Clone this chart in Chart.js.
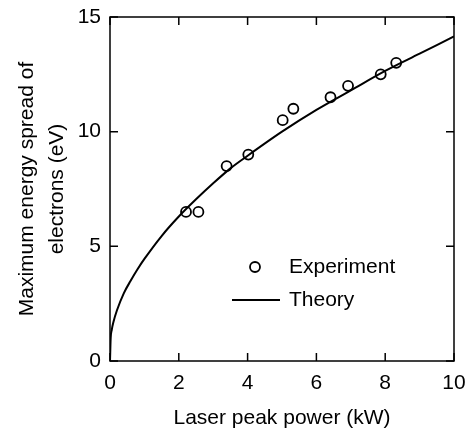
<!DOCTYPE html>
<html>
<head>
<meta charset="utf-8">
<script src="https://cdn.jsdelivr.net/npm/chart.js@4"></script>
<style>
  html, body { margin: 0; padding: 0; background: #fff; }
  #wrap { width: 469px; height: 430px; }
</style>
</head>
<body>
<div id="wrap"><canvas id="energyChart"></canvas></div>
<script>
// measured points (laser peak power kW, max energy spread eV)
const expPower = [2.21, 2.57, 3.39, 4.02, 5.02, 5.33, 6.41, 6.92, 7.87, 8.32];
const expSpread = [6.5, 6.5, 8.5, 9.0, 10.5, 11.0, 11.5, 12.0, 12.5, 13.0];

// theory curve
const theoryPower = [0, 0.02, 0.05, 0.1, 0.2, 0.4, 0.6, 0.8, 1, 1.5, 2, 2.5, 3, 3.5, 4, 5, 6, 7, 8, 9, 10];
const theorySpread = [0, 1.0, 1.35, 1.7, 2.2, 2.95, 3.5, 4.0, 4.45, 5.45, 6.3, 7.05, 7.75, 8.4, 8.95, 10.0, 10.95, 11.8, 12.65, 13.4, 14.15];

const xTicks = [0, 2, 4, 6, 8, 10];
const yTicks = [0, 5, 10, 15];

const FONT = 'Arial, "Liberation Sans", Helvetica, sans-serif';

const toXY = (xs, ys) => xs.map((x, i) => ({ x: x, y: ys[i] }));

// box frame + inward ticks on all four sides, and the in-plot legend
const framePlugin = {
  id: 'frame',
  afterDraw(chart) {
    const { ctx, chartArea: a, scales } = chart;
    const tl = 8;
    ctx.save();
    ctx.strokeStyle = '#000';
    ctx.lineWidth = 1.5;
    ctx.strokeRect(a.left, a.top, a.right - a.left, a.bottom - a.top);
    ctx.beginPath();
    xTicks.forEach(v => {
      const px = scales.x.getPixelForValue(v);
      ctx.moveTo(px, a.bottom); ctx.lineTo(px, a.bottom - tl);
      ctx.moveTo(px, a.top); ctx.lineTo(px, a.top + tl);
    });
    yTicks.forEach(v => {
      const py = scales.y.getPixelForValue(v);
      ctx.moveTo(a.left, py); ctx.lineTo(a.left + tl, py);
      ctx.moveTo(a.right, py); ctx.lineTo(a.right - tl, py);
    });
    ctx.stroke();

    // legend
    const lx = a.left + 122, ly = a.top + 250;
    ctx.lineWidth = 1.8;
    ctx.fillStyle = '#fff';
    ctx.beginPath();
    ctx.arc(lx + 23, ly, 5, 0, Math.PI * 2);
    ctx.fill(); ctx.stroke();
    ctx.lineWidth = 2;
    ctx.beginPath();
    ctx.moveTo(lx, ly + 33); ctx.lineTo(lx + 48, ly + 33);
    ctx.stroke();
    ctx.fillStyle = '#000';
    ctx.font = '21px ' + FONT;
    ctx.textBaseline = 'middle';
    ctx.fillText('Experiment', lx + 57, ly);
    ctx.fillText('Theory', lx + 57, ly + 33);
    ctx.restore();
  }
};

new Chart(document.getElementById('energyChart'), {
  type: 'scatter',
  data: {
    datasets: [
      {
        label: 'Theory',
        type: 'line',
        data: toXY(theoryPower, theorySpread),
        borderColor: '#000',
        borderWidth: 2,
        pointRadius: 0,
        fill: false,
        cubicInterpolationMode: 'monotone'
      },
      {
        label: 'Experiment',
        data: toXY(expPower, expSpread),
        pointStyle: 'circle',
        pointRadius: 5,
        pointBorderWidth: 1.8,
        pointBorderColor: '#000',
        pointBackgroundColor: '#fff'
      }
    ]
  },
  options: {
    responsive: true,
    maintainAspectRatio: false,
    animation: false,
    layout: { padding: { left: 0, right: 15, top: 17, bottom: 0 } },
    plugins: {
      legend: { display: false },
      tooltip: { enabled: false }
    },
    scales: {
      x: {
        type: 'linear',
        min: 0, max: 10,
        afterFit: s => {
          s.height = 69;
          s.paddingLeft = 0; s.paddingRight = 0;
        },
        afterBuildTicks: s => { s.ticks = xTicks.map(v => ({ value: v })); },
        grid: { display: true, drawOnChartArea: false, drawTicks: false },
        border: { display: false },
        ticks: { color: '#000', font: { family: FONT, size: 21 }, padding: 10 },
        title: {
          display: true,
          text: 'Laser peak power (kW)',
          color: '#000',
          font: { family: FONT, size: 21, lineHeight: 1.1 },
          padding: { top: 0, bottom: 0 }
        }
      },
      y: {
        type: 'linear',
        min: 0, max: 15,
        afterFit: s => {
          s.width = 110;
          s.paddingTop = 0; s.paddingBottom = 0;
        },
        afterBuildTicks: s => { s.ticks = yTicks.map(v => ({ value: v })); },
        grid: { display: true, drawOnChartArea: false, drawTicks: false },
        border: { display: false },
        ticks: { color: '#000', font: { family: FONT, size: 21 }, padding: 9 },
        title: {
          display: true,
          text: ['Maximum energy spread of', 'electrons (eV)'],
          color: '#000',
          font: { family: FONT, size: 21, lineHeight: 1.4 },
          padding: { top: 13, bottom: 0 }
        }
      }
    }
  },
  plugins: [framePlugin]
});
</script>
</body>
</html>
